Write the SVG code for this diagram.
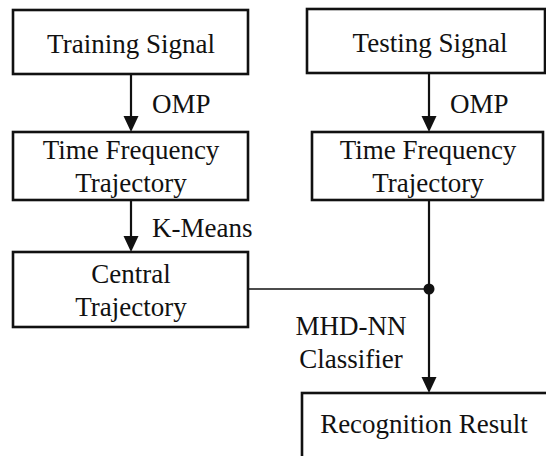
<svg xmlns="http://www.w3.org/2000/svg" width="546" height="456" viewBox="0 0 546 456">
<style>
.box{fill:#fff;stroke:#111;stroke-width:2.6}
text{font-family:'Liberation Serif','Times New Roman',Tinos,'DejaVu Serif',serif;font-size:27px;fill:#111}
.t{text-anchor:middle}
.c{stroke:#111;stroke-width:2.2;fill:none}
.ah{fill:#111}
</style>
<rect width="546" height="456" fill="#fff"/>
<g id="connectors">
<line class="c" x1="131" y1="74" x2="131" y2="118"/>
<polygon class="ah" points="123.5,116 138.5,116 131,132"/>
<line class="c" x1="429" y1="73" x2="429" y2="118"/>
<polygon class="ah" points="421.5,116 436.5,116 429,132"/>
<line class="c" x1="131" y1="200" x2="131" y2="238"/>
<polygon class="ah" points="123.5,236 138.5,236 131,252"/>
<line class="c" x1="429" y1="200" x2="429" y2="379"/>
<polygon class="ah" points="421.5,377 436.5,377 429,393"/>
<line stroke="#111" stroke-width="1.4" x1="248" y1="289" x2="429" y2="289"/>
<circle cx="429" cy="289" r="5.5" fill="#111"/>
<text x="152" y="113">OMP</text>
<text x="450" y="113">OMP</text>
<text x="152" y="237">K-Means</text>
<text class="t" x="351" y="335">MHD-NN</text>
<text class="t" x="351" y="368">Classifier</text>
</g>
<g id="training">
<rect class="box" x="13" y="10" width="235" height="64"/>
<text class="t" x="131" y="53">Training Signal</text>
</g>
<g id="tf-train">
<rect class="box" x="13" y="132" width="235" height="68"/>
<text class="t" x="131" y="159">Time Frequency</text>
<text class="t" x="131" y="192">Trajectory</text>
</g>
<g id="central">
<rect class="box" x="13" y="252" width="235" height="75"/>
<text class="t" x="131" y="283">Central</text>
<text class="t" x="131" y="316">Trajectory</text>
</g>
<g id="testing">
<rect class="box" x="307" y="9" width="238" height="64"/>
<text class="t" x="430" y="52">Testing Signal</text>
</g>
<g id="tf-test">
<rect class="box" x="312" y="132" width="231" height="68"/>
<text class="t" x="428" y="159">Time Frequency</text>
<text class="t" x="428" y="192">Trajectory</text>
</g>
<g id="result">
<rect class="box" x="302" y="393" width="260" height="70"/>
<text class="t" x="424" y="433">Recognition Result</text>
</g>
</svg>
